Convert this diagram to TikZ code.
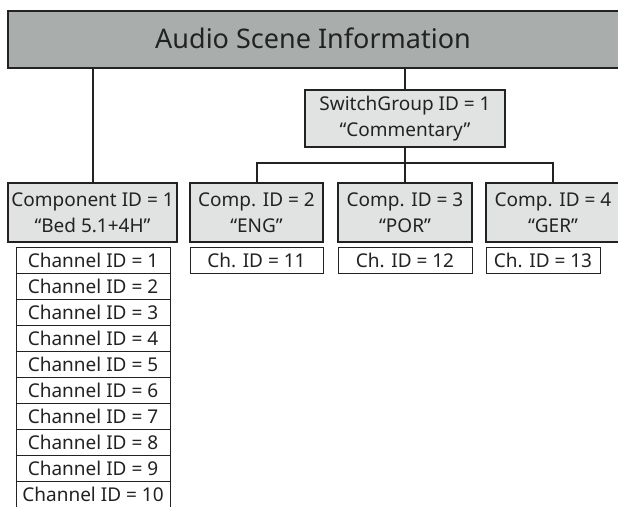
\documentclass[tikz,border=0pt]{standalone}
\usepackage{fontspec}
\setmainfont{Noto Sans}
\definecolor{topgray}{HTML}{A9AEAC}
\definecolor{lightbox}{HTML}{E1E3E2}
\definecolor{ink}{HTML}{222222}
\begin{document}
\begin{tikzpicture}[x=1pt,y=-1pt,
  every node/.style={inner sep=0pt, outer sep=0pt, align=center, text=ink},
  titlebox/.style={draw=ink, fill=topgray, line width=2pt, minimum width=612pt, minimum height=57pt, font=\fontsize{27}{32}\selectfont},
  compbox/.style={draw=ink, fill=lightbox, line width=2pt, minimum height=59pt, font=\fontsize{19}{26}\selectfont},
  chbox/.style={draw=ink, fill=white, line width=0.9pt, minimum height=26pt, font=\fontsize{19}{26}\selectfont},
  conn/.style={draw=ink, line width=2pt}]
\useasboundingbox (0,0) rectangle (618,506);
\clip (0,0) rectangle (618,506);
% title
\node[titlebox] (title) at (314,39.5) {};
\node[font=\fontsize{27}{32}\selectfont] (titletext) at (313,38) {Audio Scene Information};
% switch group
\node[compbox, minimum width=200pt, minimum height=57pt] (sg) at (405,118.5) {SwitchGroup ID = 1\\“Commentary”};
% components
\node[compbox, minimum width=169pt] (c1) at (92.5,212.5) {Component ID = 1\\“Bed 5.1+4H”};
\node[compbox, minimum width=133pt] (c2) at (256.5,212.5) {Comp. ID = 2\\“ENG”};
\node[compbox, minimum width=134pt] (c3) at (405,212.5) {Comp. ID = 3\\“POR”};
\node[compbox, minimum width=134pt] (c4) at (553,212.5) {Comp. ID = 4\\“GER”};
% channels of component 1
\foreach \i in {1,...,10} {
  \node[chbox, minimum width=154pt] (ch\i) at (93,{247+13+26*(\i-1)}) {Channel ID = \i};
}
\node[chbox, minimum width=133pt] (ch11) at (256.5,260) {Ch. ID = 11};
\node[chbox, minimum width=134pt] (ch12) at (405,260) {Ch. ID = 12};
\node[chbox, minimum width=114pt] (ch13) at (543,260) {Ch. ID = 13};
% connectors
\coordinate (bar) at (405,163);
\draw[conn] (title.south -| c1.north) -- (c1.north);
\draw[conn] (title.south -| sg.north) -- (sg.north);
\draw[conn] (sg.south) -- (c3.north);
\draw[conn] (c2.north) |- (bar) -| (c4.north);
\end{tikzpicture}
\end{document}
